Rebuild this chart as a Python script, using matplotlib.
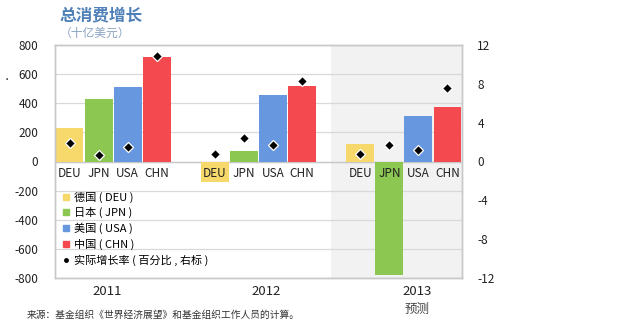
import numpy as np
import matplotlib
matplotlib.use("Agg")
import matplotlib.pyplot as plt
from matplotlib.lines import Line2D
import matplotlib.transforms as mtransforms

plt.rcParams['font.family'] = ['Noto Sans CJK SC', 'DejaVu Sans']
plt.rcParams['axes.unicode_minus'] = False

# data
years = ["2011", "2012", "2013"]
countries = ["DEU", "JPN", "USA", "CHN"]
legend_names = ["德国 ( DEU )", "日本 ( JPN )", "美国 ( USA )", "中国 ( CHN )"]
colors = ["#f6d86b", "#8cc751", "#6797df", "#f4494e"]

# consumption growth, billions of USD (left axis)
consumption = [
    [230, 430, 510, 720],
    [-140, 75, 455, 516],
    [123, -780, 315, 372],
]
# actual growth rate, percent (right axis)
growth_rate = [
    [1.9, 0.7, 1.5, 10.9],
    [0.8, 2.4, 1.7, 8.3],
    [0.8, 1.7, 1.2, 7.6],
]
year_label_pos = [1.29, 6.76, 11.95]

fig = plt.figure(figsize=(6.4, 3.3), dpi=100)
ax = fig.add_axes([55 / 640, 1 - 278 / 330, 407 / 640, 233 / 330])
ax2 = ax.twinx()

ax.set_xlim(-0.5, 13.5)
ax.set_ylim(-800, 800)
ax2.set_ylim(-12, 12)

# forecast shading
ax.axvspan(9, 13.5, color="#f2f2f2", zorder=0, lw=0)

ax.set_yticks(np.arange(-800, 801, 200))
ax2.set_yticks(np.arange(-12, 13, 4))
ax.yaxis.grid(True, color="#d9d9d9", lw=0.9, zorder=0.5)
ax.set_axisbelow(True)
ax.set_xticks([])
ax.tick_params(axis="y", length=0, pad=12, labelsize=8.5, colors="#222222")
ax2.tick_params(axis="y", length=0, pad=11, labelsize=8.5, colors="#222222")
for a in (ax, ax2):
    for s in a.spines.values():
        s.set_color("#c8c8c8")
        s.set_linewidth(1.0)

ax.axhline(0, color="#c8c8c8", lw=1.0, zorder=1)

for g in range(len(years)):
    xs = g * 5 + np.arange(len(countries))
    ax.bar(xs, consumption[g], width=0.96, color=colors, zorder=2)
    ax2.scatter(xs, growth_rate[g], marker="D", s=26, color="black",
                edgecolors="white", linewidths=0.9, zorder=5)
    for x, c in zip(xs, countries):
        ax.text(x, -80, c, ha="center", va="center", fontsize=8.5,
                color="#222222", zorder=4)

trans = mtransforms.blended_transform_factory(ax.transData, ax.transAxes)
for x, y in zip(year_label_pos, years):
    ax.text(x, -0.06, y, transform=trans, ha="center", va="center",
            fontsize=9.5, color="#222222")
ax.text(year_label_pos[2], -0.135, "预测", transform=trans, ha="center",
        va="center", fontsize=9, color="#444444")

# legend
handles = [Line2D([], [], marker="s", ls="", color=c, markersize=4) for c in colors]
handles.append(Line2D([], [], marker="o", ls="", color="black", markersize=2.5))
labels = legend_names + ["实际增长率 ( 百分比 , 右标 )"]
ax.legend(handles, labels, loc="upper left", bbox_to_anchor=(0.0, 0.405),
          frameon=False, fontsize=8, handlelength=0.6, handletextpad=0.45,
          labelspacing=0.4, borderaxespad=0.3)

fig.text(60 / 640, 1 - 15 / 330, "总消费增长", fontsize=12, fontweight="bold",
         color="#4f80b8", va="center")
fig.text(60 / 640, 1 - 33 / 330, "（十亿美元）", fontsize=8.5, color="#8aa3c2",
         va="center")
fig.text(27 / 640, 1 - 315 / 330, "来源：基金组织《世界经济展望》和基金组织工作人员的计算。",
         fontsize=7, color="#333333", va="center")
fig.text(3 / 640, 1 - 80 / 330, "•", fontsize=6, color="#222222", va="center")

fig.savefig("out.png", dpi=100)
